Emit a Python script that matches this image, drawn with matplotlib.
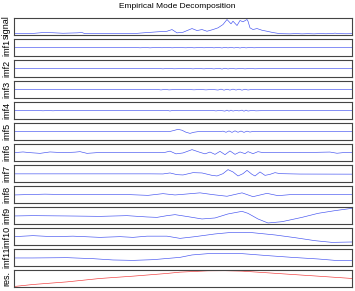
import numpy as np
import matplotlib
matplotlib.use('Agg')
import matplotlib.pyplot as plt

plt.rcParams['font.family'] = ['Liberation Sans', 'DejaVu Sans']

# sample position (same scale for every row) and values
sig_t = [14, 30, 43, 53, 63, 77, 82, 85, 133, 143, 157, 167, 172, 177, 183, 192, 197, 202, 207,
         213, 218, 223, 227, 231, 233, 237, 240, 243, 247, 248, 250, 253, 257, 262, 267, 273, 280,
         290, 296, 302, 308, 314, 320, 326, 332, 335, 340, 346, 352]
sig_v = [-7.0, -7.0, -5.9, -6.1, -6.6, -6.2, -5.9, -7.0, -7.0, -6.2, -5.2, -4.6, -2.9, -6.2, -5.6,
         -1.9, -3.9, -2.9, -4.6, -2.9, -1.2, 2.1, 7.1, 2.8, 5.4, 1.1, 6.1, 4.8, 7.1, 5.4, -1.2, -2.9,
         -1.9, -3.6, -4.6, -5.9, -7.0, -7.2, -6.9, -7.2, -7.0, -7.2, -6.9, -7.1, -6.8, -6.5, -7.0,
         -7.1, -7.0]

imf1_t = [14, 125, 135, 140, 146, 150, 156, 162, 168, 172, 178, 186, 190, 194, 200, 204, 210, 214,
          218, 222, 225, 228, 231, 234, 237, 240, 243, 246, 250, 254, 260, 270, 352]
imf1_v = [0, 0, 0.15, -0.15, 0.1, -0.2, 0.15, -0.1, 0.2, -0.15, 0.1, -0.15, 0.2, -0.2, 0.15, -0.15,
          0.25, -0.2, 0.25, -0.3, 0.3, -0.25, 0.35, -0.3, 0.25, -0.35, 0.3, -0.25, 0.2, -0.15, 0.1,
          0, 0]

imf2_t = [14, 150, 158, 163, 168, 174, 180, 188, 193, 198, 204, 209, 214, 219, 222, 225, 228, 231,
          236, 240, 245, 250, 255, 260, 352]
imf2_v = [0, 0, 0.2, -0.2, 0.25, -0.15, 0, 0.2, -0.2, 0.15, -0.2, 0.25, -0.25, 0.35, -0.4, 0.4,
          -0.3, 0.25, -0.25, 0.2, -0.2, 0.15, -0.15, 0, 0]

imf3_t = [14, 150, 157, 161, 165, 169, 173, 180, 188, 194, 200, 206, 212, 218, 221, 224, 227, 230,
          233, 236, 239, 242, 245, 248, 252, 260, 352]
imf3_v = [0, 0, 0.25, -0.3, 0.3, -0.25, 0, 0, 0.2, -0.2, 0.2, -0.25, 0.25, -0.4, 0.5, -0.5, 0.4,
          -0.45, 0.5, -0.4, 0.45, -0.5, 0.4, -0.35, 0.2, 0, 0]

imf4_t = [14, 33, 38, 43, 48, 53, 58, 62, 160, 167, 170, 173, 177, 200, 212, 216, 220, 225, 227,
          229, 231, 233, 236, 239, 242, 244, 246, 248, 252, 256, 262, 352]
imf4_v = [0, 0, 0.15, -0.15, 0.15, -0.15, 0.15, 0, 0, 0.3, -0.35, 0.3, 0, 0, 0.2, -0.25, 0.25,
          -0.45, 0.5, -0.5, 0.45, -0.4, 0.25, -0.25, 0.5, -0.55, 0.5, -0.4, 0.25, -0.2, 0, 0]

imf5_t = [14, 60, 66, 72, 160, 170, 174, 178, 182, 186, 190, 194, 198, 220, 223, 226, 229, 232,
          235, 238, 241, 244, 247, 250, 253, 258, 352]
imf5_v = [0, 0, 0.2, 0, 0, 0.2, 1.2, 2.3, 1.4, -0.6, -1.7, -0.6, 0, 0, 0.5, -0.6, 0.7, -0.7, 0.8,
          -0.6, 0.6, -0.7, 0.5, -0.4, 0.2, 0, 0]

imf6_t = [14, 23, 30, 40, 50, 63, 75, 80, 87, 97, 160, 165, 170, 176, 183, 192, 200, 205, 210,
          215, 220, 225, 230, 235, 240, 245, 248, 253, 258, 263, 300, 330, 337, 343, 352]
imf6_v = [0, 0.7, 0, -0.7, 0.7, 0, 0.5, 1.0, -0.7, 0, 0, 0.3, 1.5, -1.2, -0.3, 3.0, 0.3, -1.2,
          0.6, -1.7, 1.3, -2.0, 1.7, -1.7, 0.7, -1.0, 1.0, -1.0, 1.0, 0, 0, 0.6, -0.6, 0, 0]

imf7_t = [14, 150, 163, 170, 177, 183, 193, 202, 212, 217, 223, 228, 233, 238, 243, 247, 252,
          255, 260, 265, 270, 275, 280, 300, 352]
imf7_v = [-0.2, -0.2, -0.3, 0.7, -1.0, -1.3, 1.0, 0.7, -1.7, -2.3, 0, 4.0, 1.7, -2.3, 0, 3.3,
          -0.7, -2.3, 1.7, -1.7, -0.7, 1.0, 0, -0.4, -0.5]

imf8_t = [14, 25, 45, 70, 100, 130, 148, 163, 175, 185, 200, 213, 227, 242, 253, 267, 278, 290, 352]
imf8_v = [-0.3, 0, 0.5, 0, 0.3, 0, -0.7, 1.0, -0.3, 0.5, 1.8, 0, -1.6, 1.8, -2.0, 1.3, -1.0, 0, 0]

imf9_t = [14, 33, 67, 100, 127, 147, 157, 167, 175, 188, 202, 215, 228, 242, 248, 258, 268, 282,
          302, 318, 335, 352]
imf9_v = [-0.3, 0, -0.3, -0.7, 0, -1.3, -1.7, 0, 1.0, -1.0, -3.3, -2.3, 1.7, 4.3, 2.3, -3.3, -7.3,
          -6.0, -1.7, 2.3, 5.0, 7.3]

imf10_t = [14, 33, 53, 73, 100, 120, 133, 147, 167, 180, 195, 215, 232, 252, 275, 295, 315, 332, 352]
imf10_v = [0, 1.0, 0, 0.5, -0.7, 0, -0.7, 0.5, 0.5, -1.7, 0, 2.7, 4.3, 4.0, 1.7, -1.0, -4.0, -5.7,
           -5.3]

imf11_t = [14, 33, 67, 93, 113, 133, 153, 173, 180, 192, 208, 242, 268, 292, 318, 335, 352]
imf11_v = [-0.3, -0.3, 0, -1.0, -2.3, -2.7, -2.0, -0.3, 0.3, 2.7, 4.0, 4.0, 2.0, 0.3, -1.3, -2.7,
           -3.0]

res_t = [14, 33, 67, 100, 133, 167, 180, 208, 225, 242, 268, 292, 318, 352]
res_v = [-7.8, -5.8, -3.2, 0.2, 2.5, 5.2, 6.5, 7.8, 7.9, 7.5, 5.8, 4.2, 2.5, 0.2]

labels = ['signal'] + ['imf%d' % i for i in range(1, 12)] + ['res.']
rows = [(sig_t, sig_v), (imf1_t, imf1_v), (imf2_t, imf2_v), (imf3_t, imf3_v), (imf4_t, imf4_v),
        (imf5_t, imf5_v), (imf6_t, imf6_v), (imf7_t, imf7_v), (imf8_t, imf8_v), (imf9_t, imf9_v),
        (imf10_t, imf10_v), (imf11_t, imf11_v), (res_t, res_v)]

fig, axes = plt.subplots(len(rows), 1, figsize=(3.55, 2.91), dpi=100)
fig.subplots_adjust(left=14 / 355, right=352 / 355, top=1 - 18.3 / 291, bottom=4 / 291,
                    hspace=0.26)

for ax, lab, (t, v) in zip(axes, labels, rows):
    col = '#ee3333' if lab == 'res.' else '#4050f0'
    ax.plot(t, v, color=col, linewidth=0.45)
    ax.set_xlim(14, 352)
    ax.set_ylim(-8.3, 8.3)
    ax.set_xticks([])
    ax.set_yticks([])
    ax.set_ylabel(lab, fontsize=6.5, labelpad=2)
    for s in ax.spines.values():
        s.set_color('#444444')
        s.set_linewidth(0.8)

fig.suptitle('Empirical Mode Decomposition', fontsize=6, y=1 - 7 / 291, va='center')

fig.savefig('out.png', dpi=100)
